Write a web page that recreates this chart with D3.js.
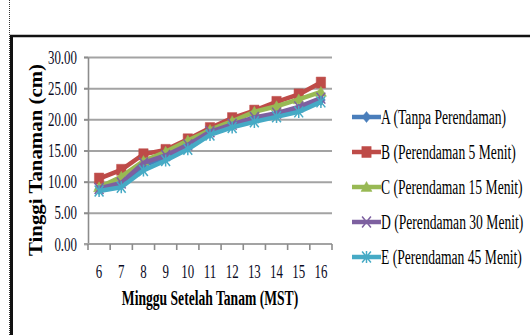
<!DOCTYPE html>
<html><head><meta charset="utf-8">
<script src="https://cdn.jsdelivr.net/npm/d3@7"></script>
<style>body{margin:0;background:#fff}svg{display:block}</style>
</head><body><svg id="chart" width="530" height="335"></svg>
<script>
// Weekly plant height (cm) for five soaking treatments
const weeks = [6, 7, 8, 9, 10, 11, 12, 13, 14, 15, 16];
const seriesNames = ["A (Tanpa Perendaman)", "B (Perendaman 5 Menit)", "C (Perendaman 15 Menit)", "D (Perendaman 30 Menit)", "E (Perendaman 45 Menit)"];
const heightA = [8.8, 9.6, 12.6, 13.9, 15.6, 17.8, 19.0, 20.0, 20.8, 21.7, 23.1];
const heightB = [10.5, 11.9, 14.4, 15.1, 16.8, 18.6, 20.2, 21.4, 22.8, 24.0, 25.9];
const heightC = [9.1, 10.8, 13.3, 14.8, 16.6, 18.3, 19.7, 21.2, 22.1, 23.2, 24.4];
const heightD = [8.9, 9.8, 13.0, 14.2, 15.9, 18.0, 19.2, 20.3, 21.0, 22.0, 23.4];
const heightE = [8.5, 9.1, 11.8, 13.4, 15.2, 17.5, 18.7, 19.6, 20.4, 21.2, 22.8];
const yTicks = [0, 5, 10, 15, 20, 25, 30];
const yTitle = "Tinggi Tanaman (cm)";
const xTitle = "Minggu Setelah Tanam (MST)";

const colors = ["#4a7ebb", "#be4b48", "#98b954", "#7d60a0", "#46aac5"];
const markers = ["diamond", "square", "triangle", "x", "star"];
const series = [heightA, heightB, heightC, heightD, heightE].map((v, i) => ({
  name: seriesNames[i], values: v, color: colors[i], marker: markers[i]
}));

const FONT = "'Liberation Serif','Times New Roman',serif";
const SX = 0.68; // horizontal squeeze of the lettering
const svg = d3.select("#chart");

// page frame
svg.append("line").attr("x1", 9.5).attr("x2", 9.5).attr("y1", 0).attr("y2", 335)
  .attr("stroke", "#333").attr("stroke-width", 1).attr("stroke-dasharray", "1,1");
svg.append("line").attr("x1", 10).attr("x2", 530).attr("y1", 36).attr("y2", 36)
  .attr("stroke", "#111").attr("stroke-width", 2.5);
svg.append("line").attr("x1", 11.5).attr("x2", 11.5).attr("y1", 35).attr("y2", 335)
  .attr("stroke", "#111").attr("stroke-width", 3);

const plotL = 88, plotR = 332, plotT = 57, plotB = 244;
const x = d3.scaleBand().domain(weeks).range([plotL, plotR]);
const y = d3.scaleLinear().domain([0, 30]).range([plotB, plotT]);
const cx = w => x(w) + x.bandwidth() / 2;

// horizontal gridlines (extend past the axis as tick marks)
const grid = svg.append("g").attr("transform", `translate(${plotR},0)`)
  .call(d3.axisRight(y).tickValues(yTicks.filter(d => d > 0)).tickSizeInner(-(plotR - plotL + 4)).tickSizeOuter(0).tickFormat(""));
grid.select(".domain").remove();
grid.selectAll("line").attr("stroke", "#a3a3a3").attr("stroke-width", 2);

// y axis
const yAxis = svg.append("g").attr("transform", `translate(${plotL},0)`)
  .call(d3.axisLeft(y).tickValues(yTicks).tickFormat(d3.format(".2f")).tickSize(4).tickSizeOuter(0));
yAxis.select(".domain").attr("stroke", "#8c8c8c").attr("stroke-width", 1.6);
yAxis.selectAll(".tick line").attr("stroke", "#8c8c8c").attr("stroke-width", 1.6);
yAxis.selectAll("text").attr("font-family", FONT).attr("font-size", 19).attr("fill", "#0a0a1e")
  .attr("x", -11 / SX).attr("transform", `scale(${SX},1)`);

// x axis: baseline, tick marks between categories, labels at category centres
svg.append("line").attr("x1", plotL - 4).attr("x2", plotR).attr("y1", plotB).attr("y2", plotB)
  .attr("stroke", "#a3a3a3").attr("stroke-width", 2);
const bounds = d3.range(weeks.length + 1).map(i => x.range()[0] + i * x.step());
svg.append("g").selectAll("line").data(bounds).join("line")
  .attr("x1", d => d).attr("x2", d => d).attr("y1", plotB).attr("y2", plotB + 6)
  .attr("stroke", "#8c8c8c").attr("stroke-width", 1.6);
const xAxis = svg.append("g").attr("transform", `translate(0,${plotB})`)
  .call(d3.axisBottom(x).tickSize(0).tickPadding(0));
xAxis.select(".domain").remove();
xAxis.selectAll(".tick").attr("transform", d => `translate(${cx(d)},0)`);
xAxis.selectAll("text").attr("font-family", FONT).attr("font-size", 19).attr("fill", "#0a0a1e")
  .attr("dy", null).attr("y", 34).attr("transform", `scale(${SX},1)`);

// axis titles
svg.append("text").attr("transform", `translate(210,305) scale(${SX},1)`)
  .attr("text-anchor", "middle").attr("font-family", FONT).attr("font-weight", "bold")
  .attr("font-size", 20).attr("fill", "#000").text(xTitle);
svg.append("text").attr("transform", "translate(42,160) rotate(-90)")
  .attr("text-anchor", "middle").attr("font-family", FONT).attr("font-weight", "bold")
  .attr("font-size", 18).attr("textLength", 192).attr("lengthAdjust", "spacingAndGlyphs")
  .attr("fill", "#000").text(yTitle);

// marker shapes
function markerPath(type, s) {
  switch (type) {
    case "diamond": return `M0,${-s}L${s * 0.8},0L0,${s}L${-s * 0.8},0Z`;
    case "square": return `M${-s * 0.85},${-s}H${s * 0.85}V${s}H${-s * 0.85}Z`;
    case "triangle": return `M0,${-s}L${s},${s * 0.8}L${-s},${s * 0.8}Z`;
    case "x": return `M${-s * 0.8},${-s}L${s * 0.8},${s}M${s * 0.8},${-s}L${-s * 0.8},${s}`;
    case "star": return `M${-s * 0.8},${-s}L${s * 0.8},${s}M${s * 0.8},${-s}L${-s * 0.8},${s}M0,${-s * 1.1}V${s * 1.1}`;
  }
}
const filled = t => t === "diamond" || t === "square" || t === "triangle";

const line = d3.line().x((d, i) => cx(weeks[i])).y(d => y(d));
const plot = svg.append("g");
series.forEach(s => {
  const g = plot.append("g");
  g.append("path").attr("d", line(s.values)).attr("fill", "none")
    .attr("stroke", s.color).attr("stroke-width", 4.5).attr("stroke-linejoin", "round");
  g.selectAll("path.m").data(s.values).join("path").attr("class", "m")
    .attr("transform", (d, i) => `translate(${cx(weeks[i])},${y(d)})`)
    .attr("d", markerPath(s.marker, 5.5))
    .attr("fill", filled(s.marker) ? s.color : "none")
    .attr("stroke", s.color).attr("stroke-width", filled(s.marker) ? 0.5 : 1.5);
});

// legend
const legend = svg.append("g");
const legY = d3.scaleLinear().domain([0, series.length - 1]).range([117, 257]);
series.forEach((s, i) => {
  const g = legend.append("g").attr("transform", `translate(0,${legY(i)})`);
  g.append("line").attr("x1", 352).attr("x2", 381).attr("y1", 0).attr("y2", 0)
    .attr("stroke", s.color).attr("stroke-width", 4.5);
  g.append("path").attr("transform", "translate(366.5,0)").attr("d", markerPath(s.marker, 5.5))
    .attr("fill", filled(s.marker) ? s.color : "none")
    .attr("stroke", s.color).attr("stroke-width", filled(s.marker) ? 0.5 : 1.5);
  g.append("text").attr("transform", `translate(381,7) scale(${SX},1)`)
    .attr("font-family", FONT).attr("font-size", 20).attr("fill", "#000").text(s.name);
});
</script></body></html>
